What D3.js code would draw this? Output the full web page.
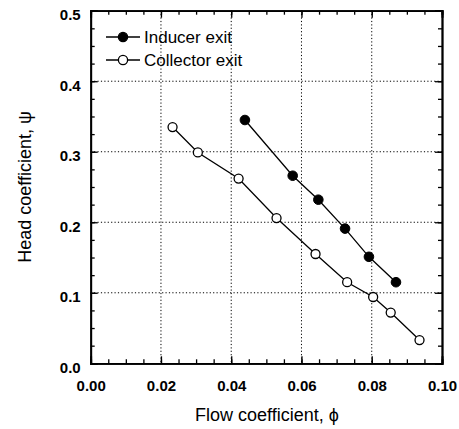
<!DOCTYPE html>
<html><head><meta charset="utf-8">
<script src="https://cdn.jsdelivr.net/npm/d3@7"></script>
<style>body{margin:0;background:#fff}svg{display:block}</style>
</head><body>
<svg id="c" width="459" height="429"></svg>
<script>
const inducerPhi = [0.0439, 0.0575, 0.0648, 0.0724, 0.0792, 0.0869];
const inducerPsi = [0.345, 0.266, 0.232, 0.191, 0.151, 0.115];
const collectorPhi = [0.0233, 0.0305, 0.0421, 0.0529, 0.0640, 0.0730, 0.0804, 0.0854, 0.0936];
const collectorPsi = [0.335, 0.299, 0.262, 0.206, 0.155, 0.115, 0.094, 0.072, 0.033];
const xTicks = [0.00, 0.02, 0.04, 0.06, 0.08, 0.10];
const yTicks = [0.0, 0.1, 0.2, 0.3, 0.4, 0.5];
const seriesNames = ["Inducer exit", "Collector exit"];

const svg = d3.select("#c");
const L = 90.7, R = 442, T = 10.7, B = 363.3;
const x = d3.scaleLinear().domain([0, 0.1]).range([L, R]);
const y = d3.scaleLinear().domain([0, 0.5]).range([B, T]);

// grid
const g = svg.append("g");
g.selectAll(".gx").data(xTicks.slice(1, -1)).join("line")
  .attr("x1", d => x(d)).attr("x2", d => x(d)).attr("y1", T).attr("y2", B)
  .attr("stroke", "#000").attr("stroke-width", 1).attr("stroke-dasharray", "1.2,2.2");
g.selectAll(".gy").data(yTicks.slice(1, -1)).join("line")
  .attr("y1", d => y(d)).attr("y2", d => y(d)).attr("x1", L).attr("x2", R)
  .attr("stroke", "#000").attr("stroke-width", 1).attr("stroke-dasharray", "1.2,2.2");

// axes with inward ticks
const xMinor = d3.range(0, 0.1001, 0.005);
const yMinor = d3.range(0, 0.5001, 0.025);
function axisGroup(axis, tr) { return svg.append("g").attr("transform", tr).call(axis); }
const tf = "Liberation Sans, Arial, sans-serif";
const ax = [
  axisGroup(d3.axisBottom(x).tickValues(xMinor).tickSize(-4).tickFormat(""), `translate(0,${B})`),
  axisGroup(d3.axisTop(x).tickValues(xMinor).tickSize(-4).tickFormat(""), `translate(0,${T})`),
  axisGroup(d3.axisLeft(y).tickValues(yMinor).tickSize(-4).tickFormat(""), `translate(${L},0)`),
  axisGroup(d3.axisRight(y).tickValues(yMinor).tickSize(-4).tickFormat(""), `translate(${R},0)`),
  axisGroup(d3.axisBottom(x).tickValues(xTicks).tickSize(-7).tickPadding(17).tickFormat(d3.format(".2f")), `translate(0,${B})`),
  axisGroup(d3.axisTop(x).tickValues(xTicks).tickSize(-7).tickFormat(""), `translate(0,${T})`),
  axisGroup(d3.axisLeft(y).tickValues(yTicks).tickSize(-7).tickPadding(10).tickFormat(d3.format(".1f")), `translate(${L},0)`),
  axisGroup(d3.axisRight(y).tickValues(yTicks).tickSize(-7).tickFormat(""), `translate(${R},0)`)
];
ax.forEach(a => {
  a.select(".domain").attr("stroke", "#000").attr("stroke-width", 1.8);
  a.selectAll(".tick line").attr("stroke", "#000").attr("stroke-width", 1.3);
  a.selectAll("text").attr("font-family", tf).attr("font-size", 15).attr("font-weight", "bold").attr("fill", "#000");
});
ax[6].selectAll("text").attr("dy", "0.6em");

// series
const inducer = inducerPhi.map((p, i) => [p, inducerPsi[i]]);
const collector = collectorPhi.map((p, i) => [p, collectorPsi[i]]);
const line = d3.line().x(d => x(d[0])).y(d => y(d[1]));
svg.append("path").attr("d", line(collector)).attr("fill", "none").attr("stroke", "#000").attr("stroke-width", 1.3);
svg.append("path").attr("d", line(inducer)).attr("fill", "none").attr("stroke", "#000").attr("stroke-width", 1.3);
svg.selectAll(".pc").data(collector).join("circle")
  .attr("cx", d => x(d[0])).attr("cy", d => y(d[1])).attr("r", 4.5)
  .attr("fill", "#fff").attr("stroke", "#000").attr("stroke-width", 1.3);
svg.selectAll(".pi").data(inducer).join("circle")
  .attr("cx", d => x(d[0])).attr("cy", d => y(d[1])).attr("r", 4.8)
  .attr("fill", "#000").attr("stroke", "#000");

// legend
const leg = [{name: seriesNames[0], fill: "#000", y: 37}, {name: seriesNames[1], fill: "#fff", y: 60}];
leg.forEach(l => {
  svg.append("line").attr("x1", 106).attr("x2", 140).attr("y1", l.y).attr("y2", l.y).attr("stroke", "#000").attr("stroke-width", 1.3);
  svg.append("circle").attr("cx", 123).attr("cy", l.y).attr("r", 4.6).attr("fill", l.fill).attr("stroke", "#000").attr("stroke-width", 1.3);
  svg.append("text").attr("x", 144).attr("y", l.y + 6).attr("font-family", tf).attr("font-size", 17).text(l.name);
});

// axis titles
svg.append("text").attr("x", 267).attr("y", 421).attr("text-anchor", "middle")
  .attr("font-family", tf).attr("font-size", 18).text("Flow coefficient, ϕ");
svg.append("text").attr("transform", "translate(31,187) rotate(-90)").attr("text-anchor", "middle")
  .attr("font-family", tf).attr("font-size", 18).text("Head coefficient, ψ");
</script>
</body></html>
